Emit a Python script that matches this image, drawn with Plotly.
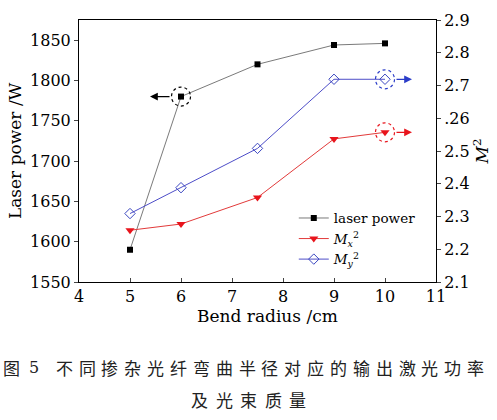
import plotly.graph_objects as go

# ---- data ----
bend_radius = [5, 6, 7.5, 9, 10]
laser_power = [1590, 1780, 1820, 1844, 1846]
m2_x = [2.258, 2.277, 2.358, 2.537, 2.557]
m2_y = [2.309, 2.388, 2.508, 2.719, 2.719]

x_ticks = [4, 5, 6, 7, 8, 9, 10, 11]
left_ticks = [1550, 1600, 1650, 1700, 1750, 1800, 1850]
right_ticks = [2.1, 2.2, 2.3, 2.4, 2.5, 2.6, 2.7, 2.8, 2.9]
right_ticktext = ["2.1", "2.2", "2.3", "2.4", "2.5", ".26", "2.7", "2.8", "2.9"]

caption_line1 = "图5不同掺杂光纤弯曲半径对应的输出激光功率"
caption_line2 = "及光束质量"

W, H = 497, 420
L, R, T, B = 79, 54, 11, 138
pw = W - L - R
ph = H - T - B

SERIF = "DejaVu Serif"
CJK = "Noto Sans CJK SC"

fig = go.Figure()
fig.add_trace(go.Scatter(
    x=bend_radius, y=laser_power, name="laser power", mode="lines+markers",
    line=dict(color="#7a7a7a", width=1),
    marker=dict(symbol="square", size=6, color="black"),
    yaxis="y"))
fig.add_trace(go.Scatter(
    x=bend_radius, y=m2_x, name="<i>M</i><sub><i>x</i></sub><sup>2</sup>",
    mode="lines+markers",
    line=dict(color="#e23a3a", width=1),
    marker=dict(symbol="triangle-down", size=8, color="#e8141c"),
    yaxis="y2"))
fig.add_trace(go.Scatter(
    x=bend_radius, y=m2_y, name="<i>M</i><sub><i>y</i></sub><sup>2</sup>",
    mode="lines+markers",
    line=dict(color="#4d4dc8", width=1),
    marker=dict(symbol="diamond-open", size=8, color="#3a46c0",
                line=dict(width=1)),
    yaxis="y2"))

# dashed circles
circles = [
    (bend_radius[1], laser_power[1], "y", "black"),
    (bend_radius[4], m2_y[4], "y2", "#2a3cc8"),
    (bend_radius[4], m2_x[4], "y2", "#e8141c"),
]
for cx, cy, yr, col in circles:
    fig.add_shape(type="circle", xref="x", yref=yr,
                  xsizemode="pixel", ysizemode="pixel",
                  xanchor=cx, yanchor=cy, x0=-9.5, x1=9.5, y0=-9.5, y1=9.5,
                  line=dict(color=col, width=1.2, dash="dot"))

# arrows
arrows = [
    (bend_radius[1], laser_power[1], "y", "black", -31, 21),
    (bend_radius[4], m2_y[4], "y2", "#2a3cc8", 27, -17),
    (bend_radius[4], m2_x[4], "y2", "#e8141c", 27, -17),
]
for ax_, ay_, yr, col, shift, tail in arrows:
    fig.add_annotation(x=ax_, y=ay_, xref="x", yref=yr, text="",
                       showarrow=True, arrowhead=2, arrowsize=1.2,
                       arrowwidth=1.3, arrowcolor=col,
                       xshift=shift, ax=tail, ay=0)

def px2paper_x(px):
    return (px - L) / pw

def px2paper_y(py):
    return (H - B - py) / ph

# x-axis title as annotation (slightly right of centre, as in reference)
fig.add_annotation(x=px2paper_x(271), y=px2paper_y(317), xref="paper",
                   yref="paper", text="Bend radius /cm", showarrow=False,
                   xanchor="center", yanchor="middle",
                   font=dict(family=SERIF, size=17, color="black"))

# caption (per-character for wide spacing)
line1_centers = [10, 33] + [64 + i * 23.3 for i in range(len(caption_line1) - 2)]
for ch, cxp in zip(caption_line1, line1_centers):
    fig.add_annotation(x=px2paper_x(cxp), y=px2paper_y(370), xref="paper",
                       yref="paper", text=ch, showarrow=False,
                       xanchor="center", yanchor="middle",
                       font=dict(family=CJK if ch != "5" else SERIF,
                                 size=17 if ch != "5" else 16, color="#222"))
for i, ch in enumerate(caption_line2):
    fig.add_annotation(x=px2paper_x(202 + i * 25), y=px2paper_y(404),
                       xref="paper", yref="paper", text=ch, showarrow=False,
                       xanchor="center", yanchor="middle",
                       font=dict(family=CJK, size=17, color="#222"))

tickfont = dict(family=SERIF, size=16, color="black")

fig.update_layout(
    width=W, height=H,
    margin=dict(l=L, r=R, t=T, b=B, pad=0),
    paper_bgcolor="white", plot_bgcolor="white",
    font=dict(family=SERIF, size=16, color="black"),
    showlegend=True,
    legend=dict(x=px2paper_x(298), y=px2paper_y(200), xanchor="left",
                yanchor="top", bgcolor="rgba(0,0,0,0)",
                font=dict(family=SERIF, size=13.5), tracegroupgap=0,
                itemwidth=30),
    xaxis=dict(range=[4, 11], tickvals=x_ticks, ticks="inside", ticklen=4,
               tickfont=tickfont,
               showline=True, linecolor="black", linewidth=1, mirror=True,
               showgrid=False, zeroline=False),
    yaxis=dict(range=[1550, 1875], tickvals=left_ticks, ticks="outside",
               ticklen=4, showline=True, linecolor="black", linewidth=1,
               tickfont=tickfont,
               showgrid=False, zeroline=False,
               title=dict(text="Laser power /W", standoff=4,
                          font=dict(family=SERIF, size=17))),
    yaxis2=dict(range=[2.1, 2.9], tickvals=right_ticks,
                ticktext=right_ticktext, overlaying="y", side="right",
                ticks="outside", ticklen=4, showline=True, linecolor="black",
                tickfont=tickfont,
                linewidth=1, showgrid=False, zeroline=False,
                title=dict(text="<i>M</i><sup>2</sup>", standoff=4,
                           font=dict(family=SERIF, size=17))),
)

fig.write_html("out.html")
